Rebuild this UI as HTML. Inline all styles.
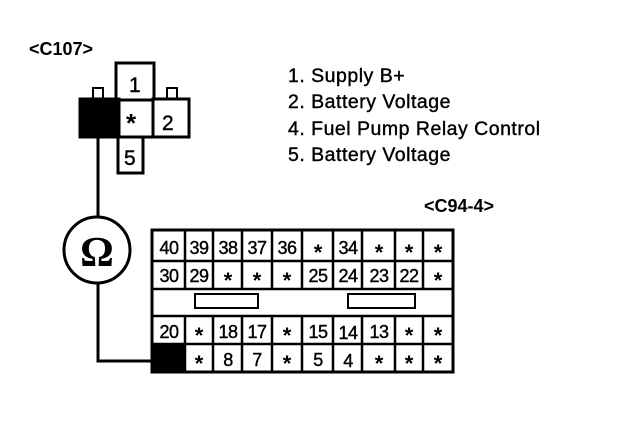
<!DOCTYPE html>
<html><head><meta charset="utf-8"><style>
html,body{margin:0;padding:0;background:#fff;}
svg{display:block;}
text{font-family:"Liberation Sans",sans-serif;fill:#000;}
.t{stroke:#000;stroke-width:0.4;}
</style></head><body>
<svg width="624" height="440" viewBox="0 0 624 440" xmlns="http://www.w3.org/2000/svg">
<text x="29" y="55" font-size="18" font-weight="bold">&lt;C107&gt;</text>
<g font-size="19.5" class="t" letter-spacing="0.5">
<text x="288" y="82">1. Supply B+</text>
<text x="288" y="108">2. Battery Voltage</text>
<text x="288" y="135">4. Fuel Pump Relay Control</text>
<text x="288" y="161">5. Battery Voltage</text>
</g>
<text x="424" y="212" font-size="18" font-weight="bold">&lt;C94-4&gt;</text>

<!-- C107 connector -->
<g stroke="#000" stroke-width="3" fill="#fff">
<rect x="93" y="88" width="10" height="11" stroke-width="2"/>
<rect x="167" y="88" width="10" height="11" stroke-width="2"/>
<rect x="116" y="63" width="38" height="37"/>
<rect x="119" y="100" width="34" height="37"/>
<rect x="153" y="99" width="36" height="38"/>
<rect x="118" y="137" width="25" height="36"/>
<rect x="80" y="99" width="39" height="38" fill="#000"/>
</g>
<g class="t">
<text x="129" y="92" font-size="21">1</text>
<text x="162" y="130" font-size="21">2</text>
<text x="124" y="165" font-size="21">5</text>
</g>
<text x="126" y="132" font-size="26" font-weight="bold">*</text>

<!-- wire and ohmmeter -->
<g stroke="#000" stroke-width="3" fill="none">
<line x1="98" y1="137" x2="98" y2="216"/>
<circle cx="97" cy="250" r="33" fill="#fff"/>
<polyline points="98,283 98,361 152,361"/>
</g>
<text x="97" y="266" font-size="42" font-weight="bold" text-anchor="middle" style="font-family:'Liberation Serif',serif">Ω</text>

<!-- C94-4 connector -->
<rect x="152" y="230" width="301" height="142" fill="#fff" stroke="#000" stroke-width="3"/>
<g stroke="#000" stroke-width="2.5" fill="none">
<line x1="152" y1="261" x2="453" y2="261"/>
<line x1="152" y1="289" x2="453" y2="289"/>
<line x1="152" y1="316" x2="453" y2="316"/>
<line x1="152" y1="344" x2="453" y2="344"/>
<rect x="195" y="294" width="63" height="14" stroke-width="2"/>
<rect x="348" y="294" width="67" height="14" stroke-width="2"/>
</g>
<g stroke="#000" stroke-width="2.5">
<line x1="185" y1="230" x2="185" y2="289"/><line x1="185" y1="316" x2="185" y2="372"/>
<line x1="213" y1="230" x2="213" y2="289"/><line x1="213" y1="316" x2="213" y2="372"/>
<line x1="242" y1="230" x2="242" y2="289"/><line x1="242" y1="316" x2="242" y2="372"/>
<line x1="272" y1="230" x2="272" y2="289"/><line x1="272" y1="316" x2="272" y2="372"/>
<line x1="302" y1="230" x2="302" y2="289"/><line x1="302" y1="316" x2="302" y2="372"/>
<line x1="333" y1="230" x2="333" y2="289"/><line x1="333" y1="316" x2="333" y2="372"/>
<line x1="362" y1="230" x2="362" y2="289"/><line x1="362" y1="316" x2="362" y2="372"/>
<line x1="395" y1="230" x2="395" y2="289"/><line x1="395" y1="316" x2="395" y2="372"/>
<line x1="423" y1="230" x2="423" y2="289"/><line x1="423" y1="316" x2="423" y2="372"/>
</g>
<rect x="152" y="344" width="33" height="28" fill="#000"/>
<g font-size="18" text-anchor="middle" class="t" letter-spacing="-0.5">
<text x="169" y="254">40</text><text x="199" y="254">39</text><text x="228" y="254">38</text><text x="257" y="254">37</text><text x="287" y="254">36</text><text x="348" y="254">34</text>
<text x="169" y="282">30</text><text x="199" y="282">29</text><text x="318" y="282">25</text><text x="348" y="282">24</text><text x="379" y="282">23</text><text x="409" y="282">22</text>
<text x="169" y="338">20</text><text x="228" y="338">18</text><text x="257" y="338">17</text><text x="318" y="338">15</text><text x="348" y="339">14</text><text x="379" y="338">13</text>
<text x="228" y="366">8</text><text x="257" y="366">7</text><text x="318" y="366">5</text><text x="348" y="367">4</text>
</g>
<g font-size="22" font-weight="bold" text-anchor="middle">
<text x="318" y="260">*</text><text x="379" y="260">*</text><text x="409" y="260">*</text><text x="438" y="260">*</text>
<text x="228" y="288">*</text><text x="257" y="288">*</text><text x="287" y="288">*</text><text x="438" y="288">*</text>
<text x="199" y="343">*</text><text x="287" y="343">*</text><text x="409" y="343">*</text><text x="438" y="343">*</text>
<text x="199" y="371">*</text><text x="287" y="371">*</text><text x="379" y="371">*</text><text x="409" y="371">*</text><text x="438" y="371">*</text>
</g>
</svg>
</body></html>
